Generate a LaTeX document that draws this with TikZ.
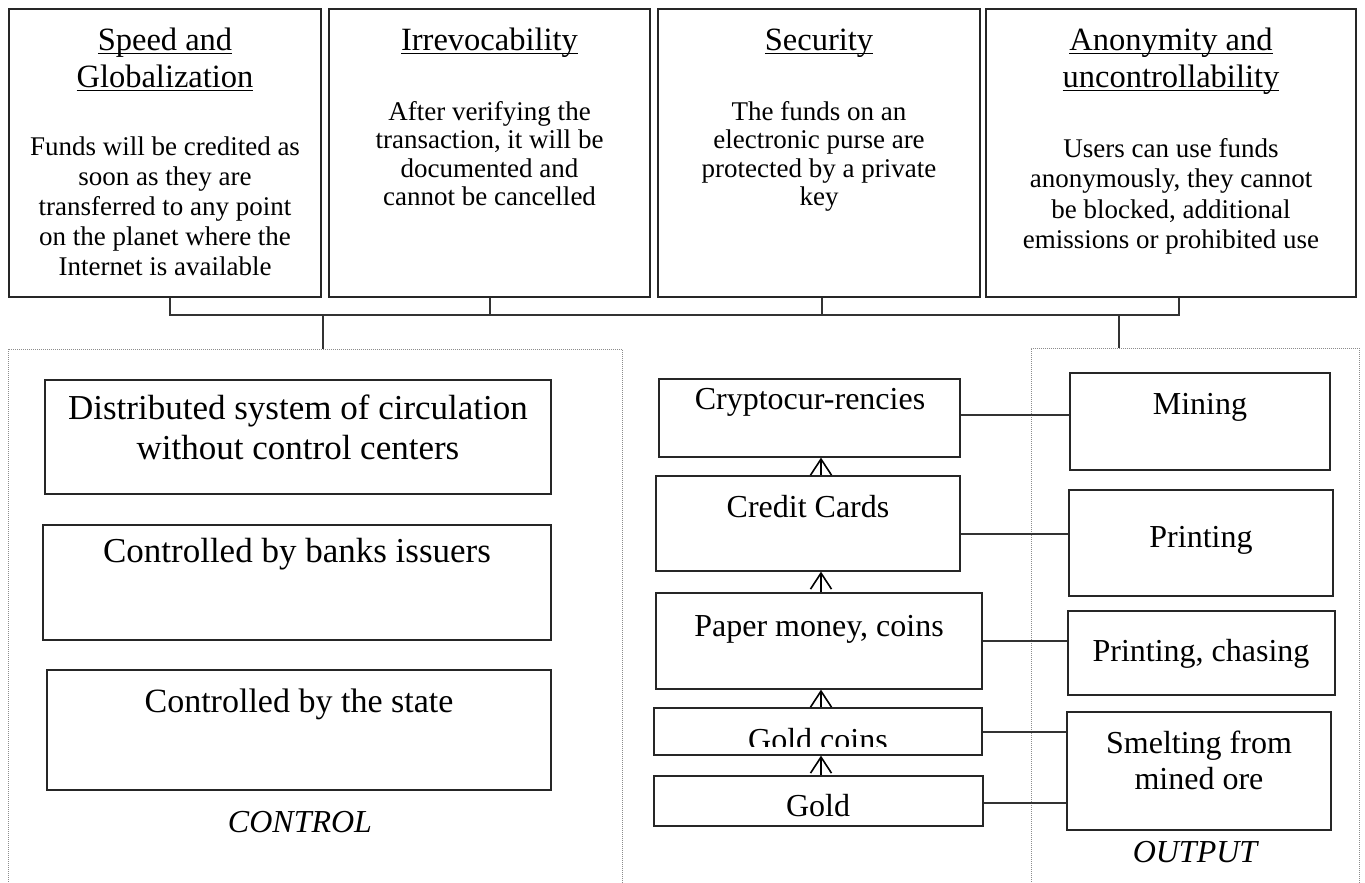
\documentclass[tikz,border=0pt]{standalone}
\usepackage{fontspec}
\setmainfont{Liberation Serif}
\usetikzlibrary{arrows.meta,fit}
\newcommand\myul[1]{\sbox0{#1}\rlap{\rule[-3.5pt]{\wd0}{1.2pt}}\usebox0}
\begin{document}
\begin{tikzpicture}[x=1pt,y=-1pt,
  box/.style={draw=black!85, line width=1.3pt, inner sep=0pt},
  dotbox/.style={draw=black!45, line width=1pt, dash pattern=on 1pt off 1pt, inner sep=0pt},
  conn/.style={draw=black!80, line width=1.3pt},
  arr/.style={draw=black, line width=1.5pt, -{Straight Barb[length=16pt,width=21pt,line width=1.6pt]}},
  head/.style={font=\fontsize{32.5}{37}\selectfont, align=center, anchor=north, inner sep=0pt},
  hbase/.style={font=\fontsize{32.5}{37}\selectfont, anchor=base, inner sep=0pt},
  body/.style={font=\fontsize{27}{#1}\selectfont, align=center, anchor=north, inner sep=0pt},
  ltxt/.style={font=\fontsize{35}{40}\selectfont, align=center, anchor=north, inner sep=0pt},
  mtxt/.style={font=\fontsize{32}{36}\selectfont, align=center, anchor=north, inner sep=0pt},
  btxt/.style={font=\fontsize{32}{36}\selectfont, anchor=base, inner sep=0pt},
  lbtxt/.style={font=\fontsize{#1}{40}\selectfont, anchor=base, inner sep=0pt},
  itxt/.style={font=\fontsize{32}{36}\selectfont\itshape, anchor=base, inner sep=0pt}
]
\useasboundingbox (0,0) rectangle (1365,883);

% ---------- top boxes ----------
\node[box, fit={(9,9)(321,297)}] (t1) {};
\node[box, fit={(329,9)(650,297)}] (t2) {};
\node[box, fit={(658,9)(980,297)}] (t3) {};
\node[box, fit={(986,9)(1356,297)}] (t4) {};

\node[head] (h1) at (165,28) {\myul{Speed and}\\\myul{Globalization}};
\node[hbase] (h2) at (489.5,51) {\myul{Irrevocability}};
\node[hbase] (h3) at (819,51) {\myul{Security}};
\node[head] (h4) at (1171,28) {\myul{Anonymity and}\\\myul{uncontrollability}};

\node[body=30] (b1) at (165,137) {Funds will be credited as\\soon as they are\\transferred to any point\\on the planet where the\\Internet is available};
\node[body=28.5] (b2) at (489.5,101) {After verifying the\\transaction, it will be\\documented and\\cannot be cancelled};
\node[body=28.5] (b3) at (819,101) {The funds on an\\electronic purse are\\protected by a private\\key};
\node[body=30.5] (b4) at (1171,138) {Users can use funds\\anonymously, they cannot\\be blocked, additional\\emissions or prohibited use};

% ---------- dotted areas ----------
\node[dotbox, fit={(8,349)(622,895)}] (ctrl) {};
\node[dotbox, fit={(1031,348)(1359,895)}] (outp) {};

% ---------- bracket ----------
\coordinate (bl) at (170,315);
\coordinate (br) at (1179,315);
\coordinate (j2) at (490,315);
\coordinate (j3) at (822,315);
\coordinate (d1) at (323,315);
\coordinate (d2) at (1119,315);
\draw[conn] (t1.south -| bl) -- (bl) -- (br) -- (t4.south -| br);
\draw[conn] (t2.south -| j2) -- (j2);
\draw[conn] (t3.south -| j3) -- (j3);
\draw[conn] (d1) -- (ctrl.north -| d1);
\draw[conn] (d2) -- (outp.north -| d2);

% ---------- control boxes ----------
\node[box, fit={(45,380)(551,494)}] (c1) {};
\node[box, fit={(43,525)(551,640)}] (c2) {};
\node[box, fit={(47,670)(551,790)}] (c3) {};
\node[ltxt] (c1t) at (298,395) {Distributed system of circulation\\without control centers};
\node[lbtxt=35] (c2t) at (297,562) {Controlled by banks issuers};
\node[lbtxt=34] (c3t) at (299,712) {Controlled by the state};
\node[itxt] (ctl) at (300,832) {CONTROL};

% ---------- money forms ----------
\node[box, fit={(659,379)(960,457)}] (m1) {};
\node[box, fit={(656,476)(960,571)}] (m2) {};
\node[box, fit={(656,593)(982,689)}] (m3) {};
\node[box, fit={(654,708)(982,755)}] (m4) {};
\node[box, fit={(654,776)(983,826)}] (m5) {};
\node[btxt] (m1t) at (810,409) {Cryptocur-rencies};
\node[btxt] (m2t) at (808,517) {Credit Cards};
\node[btxt] (m3t) at (819,636) {Paper money, coins};
\begin{scope}
  \clip (654,700) rectangle (982,746);
  \node[btxt] (m4t) at (818,750) {Gold coins};
\end{scope}
\node[btxt] (m5t) at (818,816) {Gold};

\coordinate (ax) at (821,0);
\draw[arr] (m2.north -| ax) -- (m1.south -| ax);
\draw[arr] (m3.north -| ax) -- (m2.south -| ax);
\draw[arr] (m4.north -| ax) -- (m3.south -| ax);
\draw[arr] (m5.north -| ax) -- (m4.south -| ax);

% ---------- output boxes ----------
\node[box, fit={(1070,373)(1330,470)}] (r1) {};
\node[box, fit={(1069,490)(1333,596)}] (r2) {};
\node[box, fit={(1068,611)(1335,695)}] (r3) {};
\node[box, fit={(1067,712)(1331,830)}] (r4) {};
\node[btxt] (r1t) at (1200,414) {Mining};
\node[btxt] (r2t) at (1201,547) {Printing};
\node[btxt] (r3t) at (1201,661) {Printing, chasing};
\node[mtxt] (r4t) at (1199,731) {Smelting from\\mined ore};
\node[itxt] (out) at (1195,862) {OUTPUT};

% ---------- links ----------
\coordinate (y1) at (0,415);
\coordinate (y2) at (0,534);
\coordinate (y3) at (0,641);
\coordinate (y4) at (0,732);
\coordinate (y5) at (0,803);
\draw[conn] (m1.east |- y1) -- (r1.west |- y1);
\draw[conn] (m2.east |- y2) -- (r2.west |- y2);
\draw[conn] (m3.east |- y3) -- (r3.west |- y3);
\draw[conn] (m4.east |- y4) -- (r4.west |- y4);
\draw[conn] (m5.east |- y5) -- (r4.west |- y5);
\end{tikzpicture}
\end{document}
